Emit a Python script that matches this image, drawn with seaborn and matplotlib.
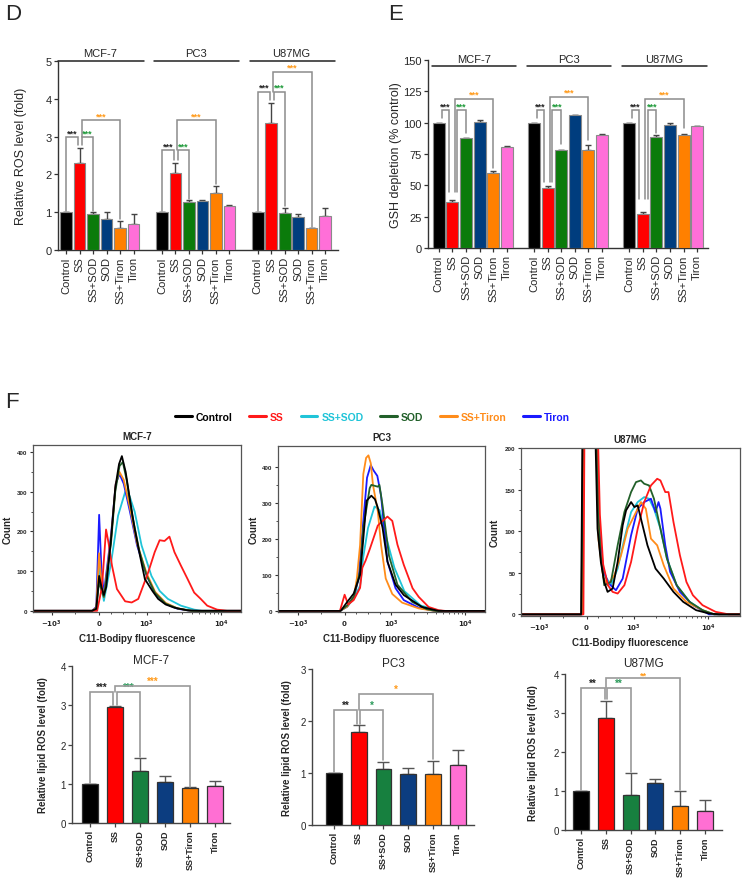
import numpy as np
import pandas as pd
import matplotlib
matplotlib.use("Agg")
import matplotlib.pyplot as plt
import seaborn as sns
from matplotlib.lines import Line2D
from matplotlib.ticker import FixedLocator

sns.set_theme(style="white")
plt.rcParams['font.family'] = ['Liberation Sans', 'DejaVu Sans']

# ---------------- data ----------------
treatments = ["Control", "SS", "SS+SOD", "SOD", "SS+Tiron", "Tiron"]
cells = ["MCF-7", "PC3", "U87MG"]

# Panel D: relative ROS level (fold)
ros_mcf7 = [1.0, 2.30, 0.95, 0.82, 0.57, 0.68]
ros_mcf7_err = [0.0, 0.40, 0.05, 0.18, 0.21, 0.28]
ros_pc3 = [1.0, 2.03, 1.27, 1.29, 1.51, 1.16]
ros_pc3_err = [0.0, 0.28, 0.05, 0.02, 0.18, 0.03]
ros_u87 = [1.0, 3.37, 0.97, 0.87, 0.57, 0.91]
ros_u87_err = [0.0, 0.51, 0.15, 0.07, 0.01, 0.19]

# Panel E: GSH depletion (% control)
gsh_mcf7 = [100, 37, 87.5, 100.5, 60, 80.5]
gsh_mcf7_err = [0, 1.0, 0.5, 2.0, 1.5, 1.0]
gsh_pc3 = [100, 48, 78.5, 106, 78.5, 90]
gsh_pc3_err = [0, 1.5, 0, 0, 3.5, 1.0]
gsh_u87 = [100, 27, 88.5, 98, 90.5, 97]
gsh_u87_err = [0, 1.5, 1.5, 1.5, 0.5, 0.5]

# Panel F bottom: relative lipid ROS level (fold)
lip_mcf7 = [1.0, 2.95, 1.33, 1.04, 0.88, 0.94]
lip_mcf7_err = [0.0, 0.03, 0.32, 0.15, 0.03, 0.12]
lip_pc3 = [1.0, 1.78, 1.07, 0.98, 0.99, 1.16]
lip_pc3_err = [0.0, 0.14, 0.15, 0.12, 0.25, 0.29]
lip_u87 = [1.0, 2.87, 0.90, 1.20, 0.61, 0.49]
lip_u87_err = [0.0, 0.45, 0.57, 0.10, 0.39, 0.27]

# Panel F top: flow cytometry histograms (fluorescence, count)
mcf7_x = {
    "Control": [-1780, -150, -60, 0, 50, 100, 150, 250, 340, 420, 480, 560, 650, 750, 860, 965, 1200, 1430, 1800, 2340, 3540, 5000, 18300],
    "SS": [-1780, -42, 60, 146, 200, 271, 375, 548, 687, 826, 1053, 1286, 1497, 1740, 2024, 2360, 2880, 3540, 4330, 5300, 6470, 8760, 11880, 18300],
    "SS+SOD": [-1780, -150, -60, 0, 50, 100, 250, 400, 550, 640, 750, 895, 1163, 1500, 1930, 2880, 4330, 5500, 18300],
    "SOD": [-1780, -150, -60, 0, 50, 100, 250, 340, 430, 500, 580, 700, 850, 1000, 1300, 1800, 2600, 4000, 18300],
    "SS+Tiron": [-1780, -150, -60, 0, 50, 100, 250, 350, 430, 520, 650, 800, 1000, 1300, 1800, 2600, 4000, 18300],
    "Tiron": [-1780, -150, -60, 0, 50, 100, 250, 350, 430, 520, 650, 800, 1000, 1300, 1800, 2600, 4000, 18300],
}
mcf7_y = {
    "Control": [0, 0, 5, 88, 60, 40, 60, 180, 310, 370, 390, 350, 280, 207, 140, 80, 50, 30, 16, 8, 1, 0, 0],
    "SS": [0, 0, 60, 205, 170, 114, 55, 24, 21, 30, 97, 148, 178, 176, 187, 148, 114, 80, 46, 30, 13, 3, 0, 0],
    "SS+SOD": [0, 0, 5, 110, 60, 25, 120, 240, 300, 290, 250, 165, 88, 50, 30, 13, 3, 0, 0],
    "SOD": [0, 0, 5, 75, 50, 35, 170, 300, 365, 375, 330, 240, 150, 90, 45, 18, 6, 0, 0],
    "SS+Tiron": [0, 0, 8, 145, 70, 35, 180, 320, 350, 330, 260, 170, 95, 48, 20, 6, 0, 0],
    "Tiron": [0, 0, 10, 242, 100, 45, 190, 320, 345, 320, 250, 165, 90, 45, 18, 5, 0, 0],
}
pc3_x = {
    "Control": [-1860, -83, 0, 56, 194, 331, 400, 469, 572, 650, 710, 812, 917, 1140, 1475, 2600, 4370, 18600],
    "SS": [-1860, -100, 0, 76, 194, 331, 380, 450, 537, 710, 814, 917, 1030, 1210, 1475, 1940, 2350, 3200, 4370, 5370, 18600],
    "SS+SOD": [-1860, -100, 56, 200, 331, 400, 500, 640, 750, 900, 1100, 1500, 2500, 4000, 5000, 18600],
    "SOD": [-1860, -100, 56, 200, 331, 400, 537, 572, 710, 745, 812, 950, 1210, 1918, 3000, 4000, 18600],
    "SS+Tiron": [-1860, -100, 56, 200, 262, 331, 400, 460, 510, 560, 607, 710, 780, 880, 1030, 1400, 2350, 3900, 18600],
    "Tiron": [-1860, -100, 56, 200, 300, 400, 480, 560, 620, 700, 780, 917, 1140, 1475, 2350, 3900, 18600],
}
pc3_y = {
    "Control": [0, 0, 15, 25, 48, 100, 200, 306, 320, 310, 287, 231, 137, 73, 44, 11, 0, 0],
    "SS": [0, 0, 45, 18, 30, 64, 120, 140, 171, 237, 250, 262, 250, 184, 128, 63, 39, 11, 2, 0, 0],
    "SS+SOD": [0, 0, 12, 35, 70, 150, 230, 290, 280, 200, 120, 55, 15, 3, 0, 0],
    "SOD": [0, 0, 15, 40, 110, 230, 341, 350, 345, 350, 293, 153, 73, 25, 5, 0, 0],
    "SS+Tiron": [0, 0, 12, 40, 90, 183, 380, 425, 432, 410, 350, 277, 183, 90, 47, 23, 7, 0, 0],
    "Tiron": [0, 0, 12, 40, 90, 250, 370, 405, 390, 375, 320, 137, 63, 30, 9, 0, 0],
}
u87_x = {
    "Control": [-1780, -120, -80, 150, 229, 300, 372, 443, 550, 657, 764, 836, 942, 1020, 1128, 1312, 1526, 1960, 2525, 3415, 4620, 6890, 10300, 14000, 26800],
    "SS": [-1780, -70, -40, 200, 280, 350, 450, 550, 657, 800, 942, 1128, 1380, 1700, 2063, 2280, 2650, 2930, 3415, 4170, 5100, 6230, 8400, 12600, 18800, 26800],
    "SS+SOD": [-1780, -100, -60, 180, 250, 350, 514, 657, 800, 942, 1128, 1380, 1603, 1867, 2280, 2790, 3770, 5630, 8400, 12000, 26800],
    "SOD": [-1780, -110, -70, 170, 250, 300, 372, 514, 657, 800, 942, 1070, 1246, 1380, 1603, 1867, 2280, 2790, 3770, 5630, 8400, 12000, 26800],
    "SS+Tiron": [-1780, -100, -60, 180, 250, 350, 443, 586, 729, 871, 1020, 1246, 1450, 1700, 2063, 2525, 3415, 5100, 8400, 12000, 26800],
    "Tiron": [-1780, -100, -60, 180, 250, 350, 450, 621, 764, 942, 1128, 1380, 1700, 1960, 2150, 2280, 2650, 3080, 4170, 6230, 10300, 26800],
}
u87_y = {
    "Control": [0, 0, 300, 300, 103, 63, 39, 27, 31, 63, 107, 125, 135, 129, 131, 107, 83, 55, 43, 27, 15, 5, 1, 0, 0],
    "SS": [0, 0, 300, 300, 120, 60, 35, 27, 25, 35, 63, 103, 135, 155, 163, 161, 147, 147, 111, 71, 39, 23, 11, 3, 0, 0],
    "SS+SOD": [0, 0, 300, 300, 100, 50, 35, 55, 91, 123, 135, 141, 139, 127, 103, 67, 35, 15, 5, 0, 0],
    "SOD": [0, 0, 300, 300, 120, 70, 35, 39, 83, 123, 147, 159, 161, 157, 155, 139, 103, 67, 35, 15, 5, 0, 0],
    "SS+Tiron": [0, 0, 300, 300, 90, 45, 35, 47, 71, 103, 119, 135, 127, 91, 83, 59, 31, 15, 5, 0, 0],
    "Tiron": [0, 0, 300, 300, 110, 55, 38, 29, 43, 95, 127, 135, 139, 123, 135, 127, 83, 51, 27, 11, 0, 0],
}

# ---------------- style ----------------
bar_colors = ["#000000", "#ff0000", "#0b7b0b", "#003d7e", "#ff8000", "#ff6fd8"]
lip_colors = ["#000000", "#ff0000", "#17803f", "#0c3d80", "#ff8000", "#ff6fd3"]
flow_colors = {"Control": "#000000", "SS": "#ff1a1a", "SS+SOD": "#20c4d8",
               "SOD": "#22602a", "SS+Tiron": "#ff8c1a", "Tiron": "#1a1aff"}
star_black, star_green, star_orange = "#222222", "#1f9a3a", "#ff9a1a"

W, H = 745, 879
fig = plt.figure(figsize=(W / 100, H / 100), dpi=100)


def add_ax(x0, y0, x1, y1):
    return fig.add_axes([x0 / W, 1 - y1 / H, (x1 - x0) / W, (y1 - y0) / H])


def draw_bars(ax, pos, vals, errs, colors, width, ec, lw, errc, cap):
    df = pd.DataFrame({"pos": pos, "val": vals,
                       "treat": [f"{i}" for i in range(len(vals))]})
    pal = {f"{i}": colors[i % 6] for i in range(len(vals))}
    sns.barplot(data=df, x="pos", y="val", hue="treat", palette=pal,
                native_scale=True, dodge=False, width=width, edgecolor=ec,
                linewidth=lw, errorbar=None, legend=False, ax=ax, zorder=3,
                saturation=1)
    ax.errorbar(pos, vals, yerr=[np.zeros(len(errs)), errs], fmt="none",
                ecolor=errc, elinewidth=1.0, capsize=cap, capthick=1.0, zorder=2)
    ax.set_xlabel("")
    ax.set_ylabel("")


def bracket(ax, x1, x2, y, b1, b2, text, tcolor, lcolor, lw=1.1, fs=6.5, dy=0.0):
    ax.plot([x1, x1, x2, x2], [b1, y, y, b2], color=lcolor, lw=lw,
            clip_on=False, zorder=4, solid_joinstyle="miter")
    ax.text((x1 + x2) / 2, y + dy, text, ha="center", va="bottom",
            color=tcolor, fontsize=fs, fontweight="bold", clip_on=False)


def style_bar_axes(ax, spine_c="#333333"):
    for s in ["top", "right"]:
        ax.spines[s].set_visible(False)
    for s in ["left", "bottom"]:
        ax.spines[s].set_color(spine_c)
        ax.spines[s].set_linewidth(1.0)
    ax.tick_params(axis="both", direction="out", length=3, width=0.9,
                   color=spine_c, left=True, bottom=True, pad=1.5)


# ---------------- Panel D ----------------
axD = add_ax(58, 62, 338, 251)
d_step = 7.1
d_pos = [g * d_step + i for g in range(3) for i in range(6)]
d_vals = ros_mcf7 + ros_pc3 + ros_u87
d_errs = ros_mcf7_err + ros_pc3_err + ros_u87_err
draw_bars(axD, d_pos, d_vals, d_errs, bar_colors, 0.86, "#8a8a8a", 0.8, "#444444", 2.2)
axD.set_xlim(-0.6, 20.15)
axD.set_ylim(0, 5)
style_bar_axes(axD)
axD.set_yticks([0, 1, 2, 3, 4, 5])
axD.set_yticklabels(["0", "1", "2", "3", "4", "5"], fontsize=8)
axD.set_xticks(d_pos)
axD.set_xticklabels(treatments * 3, rotation=90, fontsize=8)
axD.set_ylabel("Relative ROS level (fold)", fontsize=9)
axD.yaxis.set_label_coords(-0.11, 0.5)
for g, name in enumerate(cells):
    s = g * d_step
    axD.plot([s - 0.6, s + 5.75], [5, 5], color="#222222", lw=1.1, clip_on=False)
    axD.text(s + 2.5, 5.08, name, ha="center", va="bottom", fontsize=8)
gl = "#8c8c8c"
# MCF-7
bracket(axD, 0, 0.9, 2.98, 1.03, 2.78, "***", star_black, gl)
bracket(axD, 1.2, 2, 2.98, 2.78, 1.03, "***", star_green, gl)
bracket(axD, 1.15, 4, 3.43, 2.98, 0.82, "***", star_orange, gl)
# PC3
s = d_step
bracket(axD, s + 0, s + 0.9, 2.64, 1.03, 2.38, "***", star_black, gl)
bracket(axD, s + 1.2, s + 2, 2.64, 2.38, 1.36, "***", star_green, gl)
bracket(axD, s + 1.15, s + 4, 3.43, 2.64, 1.74, "***", star_orange, gl)
# U87MG
s = 2 * d_step
bracket(axD, s + 0, s + 0.9, 4.19, 1.03, 3.96, "***", star_black, gl)
bracket(axD, s + 1.2, s + 2, 4.19, 3.96, 1.16, "***", star_green, gl)
bracket(axD, s + 1.15, s + 4, 4.72, 4.19, 0.62, "***", star_orange, gl)

# ---------------- Panel E ----------------
axE = add_ax(428, 61, 708, 249)
e_step = 7.0
e_pos = [g * e_step + i for g in range(3) for i in range(6)]
e_vals = gsh_mcf7 + gsh_pc3 + gsh_u87
e_errs = gsh_mcf7_err + gsh_pc3_err + gsh_u87_err
draw_bars(axE, e_pos, e_vals, e_errs, bar_colors, 0.88, "#8a8a8a", 0.8, "#444444", 2.2)
axE.set_xlim(-0.8, 19.8)
axE.set_ylim(0, 150)
style_bar_axes(axE)
axE.set_yticks([0, 25, 50, 75, 100, 125, 150])
axE.set_yticklabels(["0", "25", "50", "75", "100", "125", "150"], fontsize=8)
axE.set_xticks(e_pos)
axE.set_xticklabels(treatments * 3, rotation=90, fontsize=8)
axE.set_ylabel("GSH depletion (% control)", fontsize=9)
axE.yaxis.set_label_coords(-0.093, 0.5)
for g, name in enumerate(cells):
    s = g * e_step
    axE.plot([s - 0.5, s + 5.7], [145, 145], color="#222222", lw=1.1, clip_on=False)
    axE.text(s + 2.6, 146.8, name, ha="center", va="bottom", fontsize=8)
# MCF-7
bracket(axE, 0.2, 0.75, 110, 104, 45, "***", star_black, gl)
bracket(axE, 1.35, 2.0, 110, 45, 92, "***", star_green, gl)
bracket(axE, 1.15, 4.0, 119, 45, 64, "***", star_orange, gl)
# PC3
s = e_step
bracket(axE, s + 0.2, s + 0.75, 110, 104, 53, "***", star_black, gl)
bracket(axE, s + 1.35, s + 2.0, 110, 53, 83, "***", star_green, gl)
bracket(axE, s + 1.15, s + 4.0, 120.5, 53, 86, "***", star_orange, gl)
# U87MG
s = 2 * e_step
bracket(axE, s + 0.2, s + 0.75, 110, 104, 39, "***", star_black, gl)
bracket(axE, s + 1.35, s + 2.0, 110, 39, 92, "***", star_green, gl)
bracket(axE, s + 1.15, s + 4.0, 119, 39, 96, "***", star_orange, gl)

# ---------------- Panel F: flow histograms ----------------
draw_order = ["SS+SOD", "Tiron", "SS+Tiron", "SOD", "SS", "Control"]


def flow_panel(box, xs, ys, xlim, ylim, ymaj, ymin, title):
    ax = add_ax(*box)
    for key in draw_order:
        sns.lineplot(x=xs[key], y=ys[key], color=flow_colors[key], lw=1.3,
                     estimator=None, sort=False, ax=ax)
    ax.set_xscale("symlog", linthresh=1000, linscale=0.57)
    ax.set_xlim(*xlim)
    ax.set_ylim(*ylim)
    ax.set_xticks([-1000, 0, 1000, 10000])
    ax.set_xticklabels([r"$\mathbf{-10^3}$", r"$\mathbf{0}$", r"$\mathbf{10^3}$",
                        r"$\mathbf{10^4}$"], fontsize=5)
    ax.xaxis.set_minor_locator(FixedLocator([-500, 250, 500, 750, 2000, 3000, 4000, 5000,
                                             6000, 7000, 8000, 9000]))
    ax.set_yticks(ymaj)
    ax.set_yticklabels([str(v) for v in ymaj], fontsize=4.5, fontweight="bold")
    ax.yaxis.set_minor_locator(FixedLocator(ymin))
    for s in ax.spines.values():
        s.set_color("#555555")
        s.set_linewidth(0.9)
    ax.tick_params(axis="both", which="major", direction="out", length=2.5, width=0.8,
                   color="#333333", pad=1.5, left=True, bottom=True)
    ax.tick_params(axis="both", which="minor", direction="out", length=1.5, width=0.6,
                   color="#333333", left=True, bottom=True)
    ax.set_xlabel("C11-Bodipy fluorescence", fontsize=7, fontweight="bold", labelpad=3)
    ax.set_ylabel("Count", fontsize=7, fontweight="bold")
    ax.yaxis.set_label_coords(-0.096, 0.5)
    ax.set_title(title, fontsize=7, fontweight="bold", pad=4)
    return ax


flow_panel((33, 446, 241, 613), mcf7_x, mcf7_y, (-1780, 18300), (-3, 418),
           [0, 100, 200, 300, 400], [50, 150, 250, 350], "MCF-7")
flow_panel((278, 447, 485, 613), pc3_x, pc3_y, (-1860, 18600), (-3, 458),
           [0, 100, 200, 300, 400], [50, 150, 250, 350], "PC3")
flow_panel((521, 449, 740, 617), u87_x, u87_y, (-1780, 26800), (-2, 200),
           [0, 50, 100, 150, 200], [25, 75, 125, 175], "U87MG")

# legend
handles = [Line2D([0], [0], color=flow_colors[k], lw=2.2) for k in treatments]
leg = fig.legend(handles, treatments, loc="center", ncol=6,
                 bbox_to_anchor=(0.5, 1 - 418 / H), frameon=False,
                 handlelength=1.6, handletextpad=0.4, columnspacing=1.6,
                 prop={"weight": "bold", "size": 7.5})
for t, k in zip(leg.get_texts(), treatments):
    t.set_color(flow_colors[k])


# ---------------- Panel F: lipid ROS bars ----------------
def lipid_panel(box, vals, errs, xlim, ylim, yt, title, lab_x, tpad):
    ax = add_ax(*box)
    pos = list(range(6))
    draw_bars(ax, pos, vals, errs, lip_colors, 0.64, "#333333", 0.9, "#555555", 4.0)
    ax.set_xlim(*xlim)
    ax.set_ylim(*ylim)
    style_bar_axes(ax, "#444444")
    ax.set_yticks(yt)
    ax.set_yticklabels([str(v) for v in yt], fontsize=7)
    ax.set_xticks(pos)
    ax.set_xticklabels(treatments, rotation=90, fontsize=6.5, fontweight="bold")
    ax.set_ylabel("Relative lipid ROS level (fold)", fontsize=7, fontweight="bold")
    ax.yaxis.set_label_coords(lab_x, 0.5)
    ax.set_title(title, fontsize=8.5, pad=tpad)
    return ax


gl2 = "#9a9a9a"
axL1 = lipid_panel((72, 667, 230, 824), lip_mcf7, lip_mcf7_err, (-0.72, 5.6), (0, 4),
                   [0, 1, 2, 3, 4], "MCF-7", -0.152, 2)
bracket(axL1, 0, 0.93, 3.33, 1.02, 3.0, "***", star_black, gl2, lw=1.2, fs=7)
bracket(axL1, 1.07, 2, 3.33, 3.0, 1.68, "***", "#2a9a5a", gl2, lw=1.2, fs=7)
bracket(axL1, 1.0, 4, 3.49, 3.33, 0.92, "***", star_orange, gl2, lw=1.2, fs=7)

axL2 = lipid_panel((312, 670, 474, 826), lip_pc3, lip_pc3_err, (-0.88, 5.65), (0, 3),
                   [0, 1, 2, 3], "PC3", -0.123, 2)
bracket(axL2, 0, 0.95, 2.21, 1.02, 1.95, "**", star_black, gl2, lw=1.2, fs=7)
bracket(axL2, 1.05, 2, 2.21, 1.95, 1.25, "*", "#2a9a5a", gl2, lw=1.2, fs=7)
bracket(axL2, 1.0, 4, 2.52, 2.21, 1.27, "*", star_orange, gl2, lw=1.2, fs=7)

axL3 = lipid_panel((565, 675, 722, 831), lip_u87, lip_u87_err, (-0.65, 5.69), (0, 4),
                   [0, 1, 2, 3, 4], "U87MG", -0.172, 6)
bracket(axL3, 0, 0.95, 3.64, 1.02, 3.35, "**", star_black, gl2, lw=1.2, fs=7)
bracket(axL3, 1.05, 2, 3.64, 3.35, 1.5, "**", "#2a9a5a", gl2, lw=1.2, fs=7)
bracket(axL3, 1.0, 4, 3.9, 3.64, 1.02, "**", star_orange, gl2, lw=1.2, fs=6.5, dy=-0.05)

# panel letters
fig.text(5 / W, 1 - 14 / H, "D", fontsize=16, va="center", ha="left")
fig.text(388 / W, 1 - 14 / H, "E", fontsize=16, va="center", ha="left")
fig.text(5 / W, 1 - 403 / H, "F", fontsize=16, va="center", ha="left")

fig.savefig("out.png", dpi=100)
